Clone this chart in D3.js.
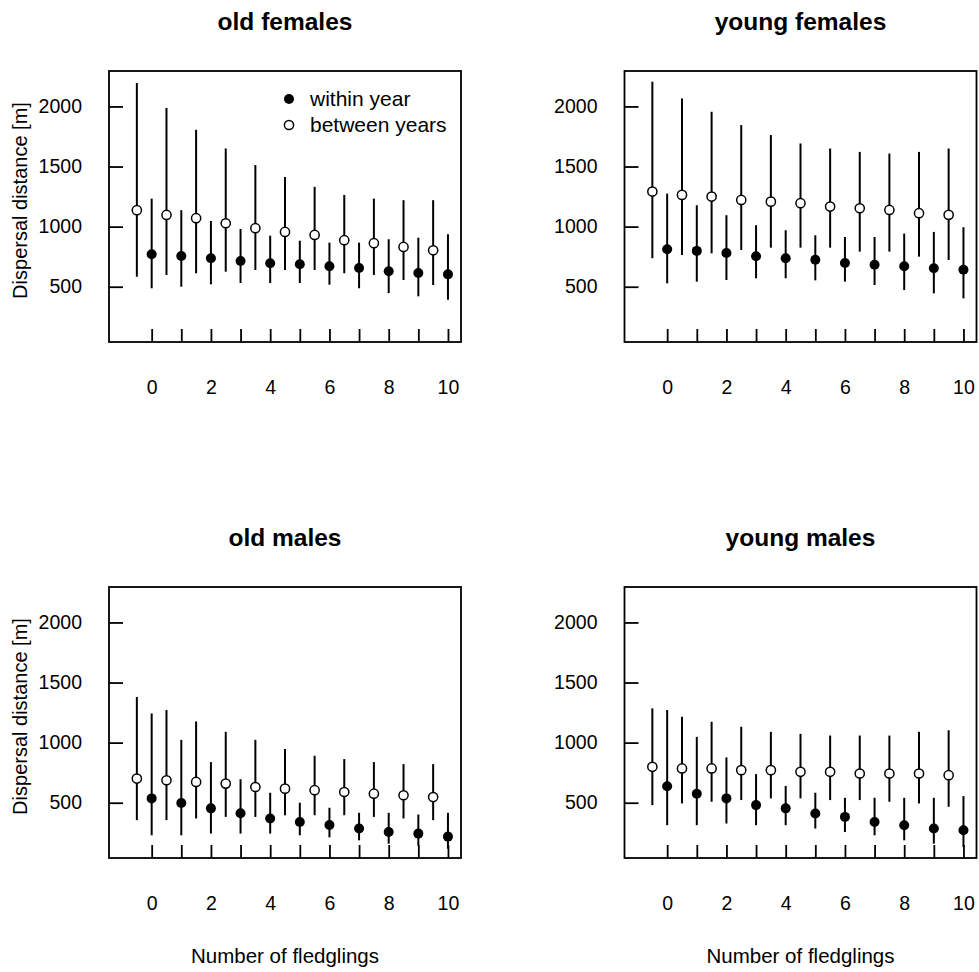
<!DOCTYPE html>
<html>
<head>
<meta charset="utf-8">
<script src="https://cdn.jsdelivr.net/npm/d3@7"></script>
<style>
  body { margin: 0; background: #fff; }
  svg text { font-family: "Liberation Sans", Arial, Helvetica, sans-serif; fill: #000; }
</style>
</head>
<body>
<div class="chart"></div>
<script>
// number of fledglings (within year) and the shifted positions for between years
const fledglings = [0, 1, 2, 3, 4, 5, 6, 7, 8, 9, 10];
const betweenX = [-0.5, 0.5, 1.5, 2.5, 3.5, 4.5, 5.5, 6.5, 7.5, 8.5, 9.5];
const xTicks = [0, 1, 2, 3, 4, 5, 6, 7, 8, 9, 10];
const yTicks = [500, 1000, 1500, 2000];
const panelTitles = ["old females", "young females", "old males", "young males"];

// old females
const ofWithinMean = [770, 756, 737, 714, 695, 687, 670, 656, 628, 614, 603];
const ofWithinLo = [487, 500, 520, 531, 531, 531, 517, 487, 447, 420, 392];
const ofWithinHi = [1233, 1137, 1047, 981, 925, 883, 867, 867, 895, 908, 937];
const ofBetweenMean = [1137, 1097, 1070, 1028, 987, 956, 931, 887, 862, 831, 803];
const ofBetweenLo = [583, 598, 612, 625, 639, 639, 639, 612, 598, 556, 514];
const ofBetweenHi = [2195, 1987, 1806, 1650, 1512, 1414, 1331, 1264, 1233, 1220, 1220];

// young females
const yfWithinMean = [812, 798, 781, 753, 737, 725, 698, 683, 670, 653, 641];
const yfWithinLo = [528, 542, 556, 570, 570, 553, 542, 514, 472, 445, 403];
const yfWithinHi = [1275, 1178, 1095, 1012, 970, 928, 914, 914, 942, 956, 995];
const yfBetweenMean = [1292, 1264, 1250, 1222, 1208, 1195, 1167, 1153, 1139, 1112, 1098];
const yfBetweenLo = [737, 764, 778, 806, 825, 825, 825, 792, 792, 750, 722];
const yfBetweenHi = [2206, 2067, 1956, 1845, 1762, 1692, 1650, 1622, 1608, 1622, 1650];

// old males
const omWithinMean = [536, 497, 453, 413, 369, 340, 315, 285, 256, 243, 218];
const omWithinLo = [229, 229, 243, 243, 243, 229, 212, 187, 159, 142, 117];
const omWithinHi = [1243, 1023, 838, 696, 583, 500, 458, 416, 416, 402, 416];
const omBetweenMean = [701, 687, 673, 659, 631, 617, 604, 589, 575, 562, 547];
const omBetweenLo = [355, 355, 369, 382, 382, 396, 396, 396, 382, 369, 355];
const omBetweenHi = [1380, 1271, 1176, 1090, 1023, 947, 891, 863, 838, 821, 821];

// young males
const ymWithinMean = [637, 575, 536, 480, 453, 411, 382, 340, 313, 285, 271];
const ymWithinLo = [313, 313, 327, 313, 313, 285, 256, 229, 187, 159, 131];
const ymWithinHi = [1271, 1048, 877, 738, 640, 583, 541, 541, 541, 541, 555];
const ymBetweenMean = [799, 785, 785, 771, 771, 757, 757, 743, 743, 743, 729];
const ymBetweenLo = [480, 494, 508, 522, 536, 536, 522, 522, 508, 494, 466];
const ymBetweenHi = [1285, 1215, 1174, 1132, 1090, 1073, 1059, 1059, 1059, 1090, 1103];

const legendLabels = ["within year", "between years"];

function rows(xs, mean, lo, hi) {
    return xs.map((x, i) => ({x: x, mean: mean[i], lo: lo[i], hi: hi[i]}));
}

const panels = [
    {title: panelTitles[0], within: rows(fledglings, ofWithinMean, ofWithinLo, ofWithinHi),
        between: rows(betweenX, ofBetweenMean, ofBetweenLo, ofBetweenHi), left: 109, top: 71, ylab: true, xlab: false, legend: true},
    {title: panelTitles[1], within: rows(fledglings, yfWithinMean, yfWithinLo, yfWithinHi),
        between: rows(betweenX, yfBetweenMean, yfBetweenLo, yfBetweenHi), left: 624.5, top: 71, ylab: false, xlab: false, legend: false},
    {title: panelTitles[2], within: rows(fledglings, omWithinMean, omWithinLo, omWithinHi),
        between: rows(betweenX, omBetweenMean, omBetweenLo, omBetweenHi), left: 109, top: 587, ylab: true, xlab: true, legend: false},
    {title: panelTitles[3], within: rows(fledglings, ymWithinMean, ymWithinLo, ymWithinHi),
        between: rows(betweenX, ymBetweenMean, ymBetweenLo, ymBetweenHi), left: 624.5, top: 587, ylab: false, xlab: true, legend: false}
];

const width = 352, height = 271;

const svg = d3.select(".chart")
    .append("svg")
    .attr("width", 979)
    .attr("height", 972);

function ErrorPanel(p) {
    const gr = svg.append("g")
        .attr("transform", "translate(" + p.left + "," + p.top + ")");

    const xScale = d3.scaleLinear()
        .domain([-1.44, 10.44])
        .range([0, width]);

    const yScale = d3.scaleLinear()
        .domain([40, 2295])
        .range([height, 0]);

    const xAxis = d3.axisBottom(xScale)
        .tickValues(xTicks)
        .tickSizeInner(-13)
        .tickSizeOuter(0)
        .tickPadding(38)
        .tickFormat(d => d % 2 === 0 ? d : "");

    const yAxis = d3.axisLeft(yScale)
        .tickValues(yTicks)
        .tickSizeInner(-14)
        .tickSizeOuter(0)
        .tickPadding(27)
        .tickFormat(d3.format("d"));

    const xAxGr = gr.append("g")
        .attr("class", "axis x-axis")
        .attr("transform", "translate(0," + height + ")")
        .call(xAxis);

    const yAxGr = gr.append("g")
        .attr("class", "axis y-axis")
        .call(yAxis);

    [xAxGr, yAxGr].forEach(a => {
        a.select(".domain").remove();
        a.selectAll(".tick line").attr("stroke", "#000").attr("stroke-width", 1.8);
        a.selectAll(".tick text").attr("font-size", 19.5).attr("fill", "#000");
    });

    // box
    gr.append("rect")
        .attr("width", width)
        .attr("height", height)
        .attr("fill", "none")
        .attr("stroke", "#000")
        .attr("stroke-width", 1.8);

    const all = p.between.concat(p.within);

    gr.selectAll(".bar")
        .data(all)
        .join("line")
        .attr("class", "bar")
        .attr("x1", d => xScale(d.x))
        .attr("x2", d => xScale(d.x))
        .attr("y1", d => yScale(d.lo))
        .attr("y2", d => yScale(d.hi))
        .attr("stroke", "#000")
        .attr("stroke-width", 2);

    gr.selectAll(".open")
        .data(p.between)
        .join("circle")
        .attr("class", "open")
        .attr("cx", d => xScale(d.x))
        .attr("cy", d => yScale(d.mean))
        .attr("r", 4.6)
        .attr("fill", "#fff")
        .attr("stroke", "#000")
        .attr("stroke-width", 1.5);

    gr.selectAll(".filled")
        .data(p.within)
        .join("circle")
        .attr("class", "filled")
        .attr("cx", d => xScale(d.x))
        .attr("cy", d => yScale(d.mean))
        .attr("r", 5)
        .attr("fill", "#000");

    // title
    gr.append("text")
        .attr("x", width / 2)
        .attr("y", -41)
        .attr("text-anchor", "middle")
        .attr("font-size", 24.5)
        .attr("font-weight", "bold")
        .text(p.title);

    if (p.ylab) {
        gr.append("text")
            .attr("transform", "translate(-82," + (height / 2 - 6) + ") rotate(-90)")
            .attr("text-anchor", "middle")
            .attr("font-size", 20)
            .text("Dispersal distance [m]");
    }
    if (p.xlab) {
        gr.append("text")
            .attr("x", width / 2)
            .attr("y", height + 105)
            .attr("text-anchor", "middle")
            .attr("font-size", 20.5)
            .text("Number of fledglings");
    }
    if (p.legend) {
        const lg = gr.append("g").attr("transform", "translate(180,28)");
        lg.append("circle").attr("cx", 0).attr("cy", 0).attr("r", 5).attr("fill", "#000");
        lg.append("circle").attr("cx", 0).attr("cy", 26).attr("r", 4.6)
            .attr("fill", "none").attr("stroke", "#000").attr("stroke-width", 1.5);
        lg.selectAll(".lgtext")
            .data(legendLabels)
            .join("text")
            .attr("class", "lgtext")
            .attr("x", 21)
            .attr("y", (d, i) => i * 26)
            .attr("dy", "0.35em")
            .attr("font-size", 21)
            .text(d => d);
    }
}

panels.forEach(p => ErrorPanel(p));
</script>
</body>
</html>
